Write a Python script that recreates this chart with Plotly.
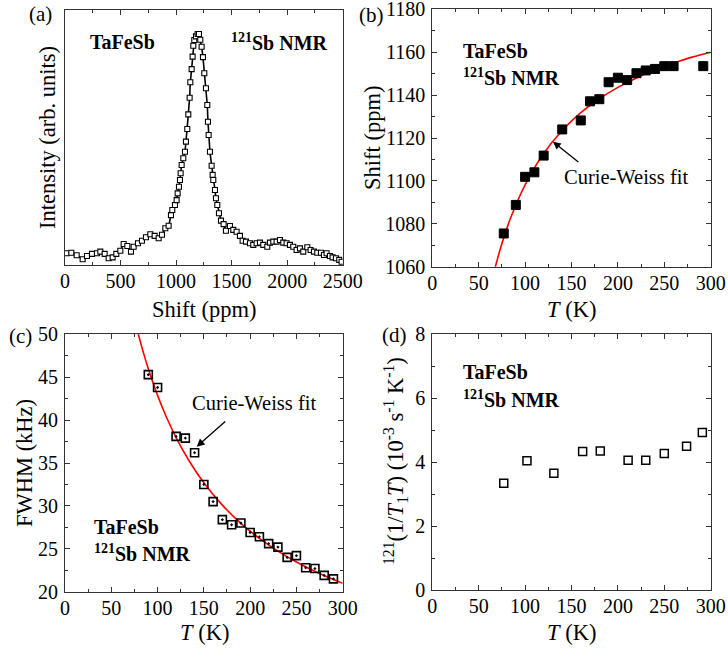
import plotly.graph_objects as go

W, H = 728, 661
FONT = "Liberation Serif"

# ---------------- data ----------------
# (a) 121Sb NMR spectrum
spec_shift = [15, 57, 105, 159, 198, 243, 288, 318, 357, 393, 429, 462, 498, 528, 561, 594, 618, 657,
              693, 729, 768, 807, 843, 873, 903, 933, 954, 966, 990, 1005, 1014, 1026, 1035, 1041,
              1050, 1065, 1080, 1089, 1101, 1110, 1122, 1128, 1140, 1149, 1155, 1164, 1179, 1194,
              1206, 1218, 1230, 1242, 1254, 1269, 1281, 1287, 1293, 1305, 1320, 1329, 1335, 1350,
              1359, 1371, 1386, 1404, 1428, 1449, 1485, 1515, 1545, 1575, 1599, 1629, 1665, 1695,
              1725, 1755, 1785, 1821, 1845, 1875, 1905, 1935, 1965, 1995, 2025, 2055, 2085, 2115,
              2145, 2181, 2211, 2241, 2271, 2304, 2331, 2355, 2385, 2409, 2439, 2469, 2490]
spec_int = [0.051, 0.053, 0.042, 0.025, 0.039, 0.048, 0.051, 0.058, 0.048, 0.029, 0.033, 0.048,
            0.062, 0.091, 0.082, 0.058, 0.079, 0.094, 0.105, 0.120, 0.133, 0.126, 0.116, 0.131,
            0.159, 0.170, 0.216, 0.238, 0.260, 0.281, 0.310, 0.339, 0.368, 0.397, 0.433, 0.462,
            0.490, 0.534, 0.589, 0.652, 0.724, 0.791, 0.848, 0.902, 0.949, 0.974, 0.990, 1.000,
            1.000, 0.975, 0.945, 0.900, 0.830, 0.765, 0.693, 0.620, 0.563, 0.490, 0.430, 0.390,
            0.368, 0.325, 0.289, 0.260, 0.224, 0.192, 0.177, 0.148, 0.169, 0.152, 0.144, 0.126,
            0.105, 0.101, 0.094, 0.087, 0.094, 0.097, 0.087, 0.079, 0.097, 0.101, 0.101, 0.108,
            0.097, 0.094, 0.087, 0.079, 0.065, 0.072, 0.058, 0.077, 0.065, 0.058, 0.053, 0.053,
            0.043, 0.051, 0.039, 0.033, 0.029, 0.022, 0.014]

# (b) Knight shift vs T
shift_T = [77, 90, 100, 110, 120, 140, 160, 170, 180, 190, 200, 210, 220, 230, 240, 250, 260, 292]
shift_ppm = [1075.5, 1088.8, 1101.9, 1104.0, 1111.8, 1124.0, 1128.2, 1137.1, 1138.1, 1146.0,
             1148.1, 1147.0, 1150.2, 1151.5, 1152.2, 1153.5, 1153.5, 1153.5]
shift_fit_T = [65, 68, 75, 85, 100, 120, 140, 160, 180, 200, 220, 240, 260, 280, 300]
shift_fit = [1054.8, 1060.0, 1070.8, 1083.4, 1098.2, 1112.8, 1123.5, 1131.8, 1138.3, 1143.6,
             1148.0, 1151.8, 1154.9, 1157.7, 1160.0]

# (c) FWHM vs T
fwhm_T = [90, 100, 120, 130, 140, 150, 160, 170, 180, 190, 200, 210, 220, 230, 240, 250, 260,
          270, 280, 290]
fwhm_kHz = [45.3, 43.8, 38.1, 37.9, 36.2, 32.5, 30.5, 28.4, 27.8, 28.0, 26.9, 26.4, 25.6, 25.2,
            24.0, 24.2, 22.8, 22.7, 21.9, 21.5]
fwhm_fit_T = [78, 85, 90, 100, 110, 120, 135, 150, 170, 190, 210, 230, 250, 275, 300]
fwhm_fit = [50.5, 47.75, 45.98, 42.88, 40.24, 37.97, 35.09, 32.70, 30.09, 27.97, 26.21, 24.73,
            23.46, 22.11, 20.97]

# (d) 1/T1T vs T
t1_T = [77, 102, 131, 162, 181, 211, 230, 250, 274, 291]
t1_val = [3.34, 4.04, 3.65, 4.33, 4.35, 4.06, 4.06, 4.27, 4.50, 4.93]


def px(x):
    return x / W


def py(y):
    return 1 - y / H


fig = go.Figure()

fig.add_trace(go.Scatter(x=spec_shift, y=spec_int, mode="lines+markers", xaxis="x", yaxis="y",
                         line=dict(color="black", width=1.6),
                         marker=dict(symbol="square", size=5, color="white",
                                     line=dict(color="black", width=1.1)),
                         showlegend=False))

fig.add_trace(go.Scatter(x=shift_fit_T, y=shift_fit, mode="lines", xaxis="x2", yaxis="y2",
                         line=dict(color="red", width=1.6, shape="spline"), showlegend=False))
fig.add_trace(go.Scatter(x=shift_T, y=shift_ppm, mode="markers", xaxis="x2", yaxis="y2",
                         marker=dict(symbol="square", size=9, color="black",
                                     line=dict(color="black", width=1)),
                         showlegend=False))

fig.add_trace(go.Scatter(x=fwhm_fit_T, y=fwhm_fit, mode="lines", xaxis="x3", yaxis="y3",
                         line=dict(color="red", width=1.6, shape="spline"), showlegend=False))
fig.add_trace(go.Scatter(x=fwhm_T, y=fwhm_kHz, mode="markers", xaxis="x3", yaxis="y3",
                         marker=dict(symbol="square-open-dot", size=8, color="black",
                                     line=dict(color="black", width=1.6)),
                         showlegend=False))

fig.add_trace(go.Scatter(x=t1_T, y=t1_val, mode="markers", xaxis="x4", yaxis="y4",
                         marker=dict(symbol="square-open", size=8, color="black",
                                     line=dict(color="black", width=1.5)),
                         showlegend=False))

tickfont = dict(family=FONT, size=20, color="black")


def xax(domain, anchor, rng, dtick, minor):
    return dict(domain=domain, anchor=anchor, range=rng, dtick=dtick, tick0=0, automargin=False,
                ticks="inside", ticklen=5, tickwidth=1, tickcolor="#333",
                minor=dict(ticks="inside", dtick=minor, ticklen=3, tickwidth=1, tickcolor="#333"),
                showline=True, linecolor="#333", linewidth=1, mirror="ticks",
                showgrid=False, zeroline=False, tickfont=tickfont, ticklabelstandoff=-2,
                ticklabeloverflow="allow")


def yax(domain, anchor, rng, dtick, minor, labels=True):
    d = dict(domain=domain, anchor=anchor, range=rng, dtick=dtick, automargin=False,
             ticks="inside" if labels else "", ticklen=5, tickwidth=1, tickcolor="#333",
             showline=True, linecolor="#333", linewidth=1, mirror="ticks" if labels else True,
             showgrid=False, zeroline=False, tickfont=tickfont, showticklabels=labels,
             ticklabelstandoff=2, ticklabeloverflow="allow")
    if labels:
        d["minor"] = dict(ticks="inside", dtick=minor, ticklen=3, tickwidth=1, tickcolor="#333")
    return d


XL = [65 / W, 342.7 / W]
XR = [432.3 / W, 710.7 / W]

fig.update_layout(
    template="none",
    width=W, height=H, margin=dict(l=0, r=0, t=0, b=0, autoexpand=False),
    paper_bgcolor="white", plot_bgcolor="white",
    font=dict(family=FONT, color="black"),
    xaxis=xax(XL, "y", [0, 2500], 500, 250),
    yaxis=yax([py(265), py(10)], "x", [0, 1.104], 0.5, 0.25, labels=False),
    xaxis2=xax(XR, "y2", [0, 300], 50, 25),
    yaxis2=yax([py(266.7), py(9.3)], "x2", [1060, 1180], 20, 10),
    xaxis3=xax(XL, "y3", [0, 300], 50, 25),
    yaxis3=yax([py(591.7), py(334.3)], "x3", [20, 50], 5, 2.5),
    xaxis4=xax(XR, "y4", [0, 300], 50, 25),
    yaxis4=yax([py(590), py(334.3)], "x4", [0, 8], 2, 1),
)

ann = []
TITLE = 22.5


def text(x, y, s, size=TITLE, angle=0, xanchor="center"):
    ann.append(dict(x=px(x), y=py(y), xref="paper", yref="paper", text=s, showarrow=False,
                    font=dict(family=FONT, size=size, color="black"), textangle=angle,
                    xanchor=xanchor, yanchor="middle"))


# panel labels
text(40, 14, "(a)", 21)
text(371, 15, "(b)", 21)
text(20, 336, "(c)", 21)
text(394, 335, "(d)", 21)

# axis titles
text(204, 310, "Shift (ppm)")
text(571, 310, "<i>T</i> (K)")
text(204, 632, "<i>T</i> (K)")
text(571, 632, "<i>T</i> (K)")
text(47, 138, "Intensity (arb. units)", angle=-90)
text(372, 138, "Shift (ppm)", angle=-90)
text(24, 463, "FWHM (kHz)", angle=-90)
text(395, 461, "<sup>121</sup>(1/<i>T</i><sub>1</sub><i>T</i>) (10<sup>-3</sup> s<sup>-1</sup> K<sup>-1</sup>)",
     angle=-90)

# sample labels
text(88, 42, "<b>TaFeSb</b>", 20, xanchor="left")
text(229, 42, "<b><sup>121</sup>Sb NMR</b>", 20, xanchor="left")
text(461, 51, "<b>TaFeSb</b>", 20, xanchor="left")
text(461, 77, "<b><sup>121</sup>Sb NMR</b>", 20, xanchor="left")
text(92, 527, "<b>TaFeSb</b>", 20, xanchor="left")
text(92, 553, "<b><sup>121</sup>Sb NMR</b>", 20, xanchor="left")
text(461, 372, "<b>TaFeSb</b>", 20, xanchor="left")
text(461, 399, "<b><sup>121</sup>Sb NMR</b>", 20, xanchor="left")

# fit labels
text(626, 177, "Curie-Weiss fit", 20.5)
text(254, 403, "Curie-Weiss fit", 20.5)

# arrows
ann.append(dict(x=130, y=1118.3, xref="x2", yref="y2", ax=159, ay=1108.3, axref="x2", ayref="y2",
                text="", showarrow=True, arrowhead=2, arrowsize=1.2, arrowwidth=1.3,
                arrowcolor="black"))
ann.append(dict(x=142.3, y=36.9, xref="x3", yref="y3", ax=174.7, ay=40.0, axref="x3", ayref="y3",
                text="", showarrow=True, arrowhead=2, arrowsize=1.2, arrowwidth=1.3,
                arrowcolor="black"))

fig.update_layout(annotations=ann)

fig.write_html("out.html", config={"displayModeBar": False},
               post_script="document.body.style.margin='0px';document.body.style.overflow='hidden';")
